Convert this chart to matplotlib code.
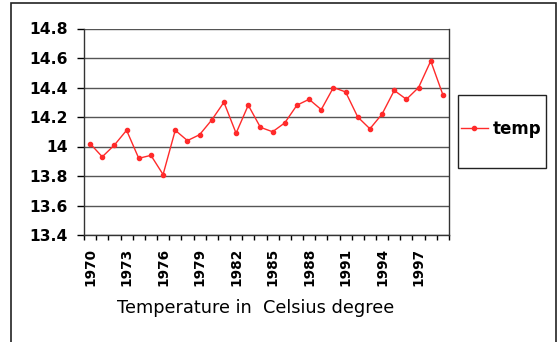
import matplotlib.pyplot as plt
from matplotlib.patches import Rectangle
from matplotlib.lines import Line2D

plt.rcParams['font.family'] = ['DejaVu Sans']

# Data
years = list(range(1970, 2000))
temp = [14.02, 13.93, 14.01, 14.11, 13.92, 13.94, 13.81, 14.11, 14.04, 14.08,
        14.18, 14.30, 14.09, 14.28, 14.13, 14.10, 14.16, 14.28, 14.32, 14.25,
        14.40, 14.37, 14.20, 14.12, 14.22, 14.38, 14.32, 14.40, 14.58, 14.35]
yticks = [13.4, 13.6, 13.8, 14.0, 14.2, 14.4, 14.6, 14.8]
ytick_labels = ['13.4', '13.6', '13.8', '14', '14.2', '14.4', '14.6', '14.8']

W, H = 560, 342
fig = plt.figure(figsize=(5.6, 3.42), dpi=100)

# plot area in pixels: left 84, right 449, top 28.5, bottom 235
ax = fig.add_axes([84 / W, 1 - 235 / H, (449 - 84) / W, (235 - 28.5) / H])

x = list(range(len(years)))
ax.plot(x, temp, color='#ff2a2a', lw=1.0, marker='o', ms=3, label='temp')

ax.set_xlim(-0.5, len(years) - 0.5)
ax.set_ylim(13.4, 14.8)
ax.set_yticks(yticks)
ax.set_yticklabels(ytick_labels, fontsize=11.2, fontweight='bold')
ax.yaxis.grid(True, color='#555555', lw=1.0)
ax.set_axisbelow(True)

# category ticks at boundaries, labels every 3 years at centers
ax.set_xticks([i - 0.5 for i in range(len(years) + 1)], minor=True)
ax.set_xticks(x[::3])
ax.set_xticklabels([str(y) for y in years[::3]], rotation=90,
                   fontsize=9.8, fontweight='bold')
ax.tick_params(axis='x', which='major', length=0, pad=9)
ax.tick_params(axis='x', which='minor', length=3.6, width=1, direction='out')
ax.tick_params(axis='y', length=5, width=1, direction='out', pad=6.5)

for s in ['left', 'bottom', 'right']:
    ax.spines[s].set_color('#333333')
    ax.spines[s].set_linewidth(1.0)
ax.spines['top'].set_visible(False)

ax.set_xlabel('Temperature in  Celsius degree', fontsize=12.8)
ax.xaxis.set_label_coords(0.471, -0.31)

# legend box
fig.patches.append(Rectangle((458 / W, 1 - 168 / H), (546 - 458) / W, 73 / H,
                             transform=fig.transFigure, fill=False,
                             edgecolor='#222222', lw=1.0))
handle = Line2D([], [], color='#ff2a2a', lw=1.0, marker='o', ms=3)
fig.legend([handle], ['temp'], loc='center left',
           bbox_to_anchor=(461 / W, 1 - 129 / H),
           prop={'weight': 'bold', 'size': 12}, frameon=False,
           handlelength=1.6, handletextpad=0.3, borderpad=0, borderaxespad=0)

# outer chart border
fig.patches.append(Rectangle((11 / W, -0.05), (556 - 11) / W, 1.05 - 3 / H,
                             transform=fig.transFigure, fill=False,
                             edgecolor='#222222', lw=1.2))

plt.savefig('out.png', dpi=100)
